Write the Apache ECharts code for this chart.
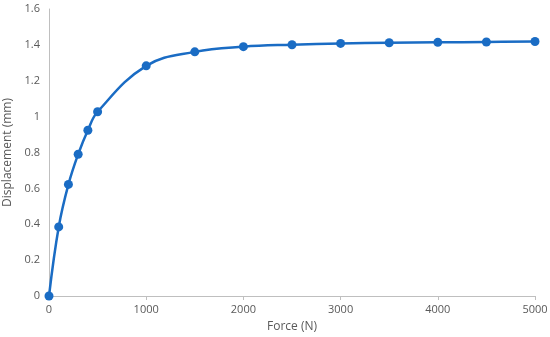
<!DOCTYPE html>
<html>
<head>
<meta charset="utf-8">
<script src="https://cdn.jsdelivr.net/npm/echarts@6/dist/echarts.min.js"></script>
<style>html,body{margin:0;padding:0;background:#fff;}#c{width:550px;height:337px;}</style>
</head>
<body>
<div id="c"></div>
<script>
const forces = [0, 100, 200, 300, 400, 500, 1000, 1500, 2000, 2500, 3000, 3500, 4000, 4500, 5000];
const displacement = [0, 0.385, 0.622, 0.79, 0.924, 1.027, 1.283, 1.361, 1.39, 1.401, 1.408, 1.412, 1.414, 1.416, 1.419];
const xAxisName = 'Force (N)';
const yAxisName = 'Displacement (mm)';

const chart = echarts.init(document.getElementById('c'));
const txt = '#595959';
const font = 'Open Sans, Liberation Sans, sans-serif';
chart.setOption({
  animation: false,
  grid: {left: 49, right: 15, top: 9, bottom: 41, containLabel: false, outerBoundsMode: 'none'},
  xAxis: {
    type: 'value', min: 0, max: 5000, interval: 1000,
    name: xAxisName, nameLocation: 'middle', nameGap: 25,
    nameTextStyle: {color: txt, fontSize: 12, fontFamily: font},
    axisLine: {lineStyle: {color: '#bfbfbf'}},
    axisTick: {show: true, length: 4, lineStyle: {color: '#bfbfbf'}},
    axisLabel: {color: txt, fontSize: 11, fontFamily: font, margin: 8, formatter: v => String(v)},
    splitLine: {show: false}
  },
  yAxis: {
    type: 'value', min: 0, max: 1.6, interval: 0.2,
    name: yAxisName, nameLocation: 'middle', nameGap: 33,
    nameTextStyle: {color: txt, fontSize: 12, fontFamily: font},
    axisLine: {show: true, lineStyle: {color: '#bfbfbf'}},
    axisTick: {show: false},
    axisLabel: {color: txt, fontSize: 11, fontFamily: font, margin: 9, formatter: v => String(Math.round(v * 10) / 10)},
    splitLine: {show: false}
  },
  series: [{
    type: 'line',
    data: forces.map((f, i) => [f, displacement[i]]),
    smooth: 0.4,
    symbol: 'circle', symbolSize: 9,
    lineStyle: {color: '#1a6cc4', width: 2.5},
    itemStyle: {color: '#1a6cc4'}
  }]
});
</script>
</body>
</html>
